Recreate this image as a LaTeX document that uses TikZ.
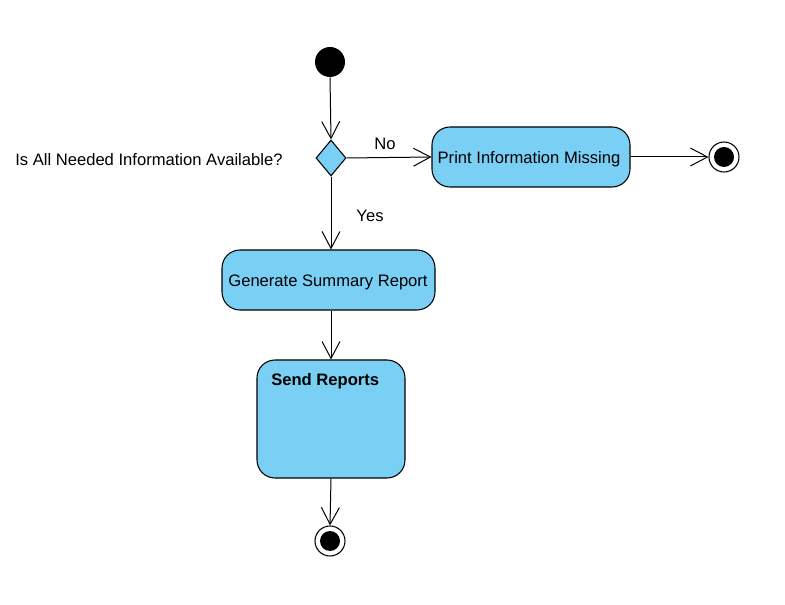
\documentclass[tikz,border=0pt]{standalone}
\usepackage{fontspec}
\setmainfont{Liberation Sans}
\usetikzlibrary{arrows.meta,shapes.geometric}
\definecolor{actblue}{RGB}{122,207,245}
\begin{document}
\begin{tikzpicture}[x=0.75pt,y=-0.75pt,
  every node/.style={font=\fontsize{12.45}{14}\selectfont},
  action/.style={draw=black, fill=actblue, rounded corners=13.5pt, line width=0.8pt, inner sep=0pt},
  initnode/.style={circle, fill=black, minimum size=22.5pt, inner sep=0pt},
  finalnode/.style={circle, draw=black, fill=white, line width=0.8pt, minimum size=22.5pt, inner sep=0pt,
     path picture={\fill[black] (path picture bounding box.center) circle (7.5pt);}},
  decision/.style={diamond, draw=black, fill=actblue, line width=0.8pt, minimum width=22.5pt, minimum height=27pt, inner sep=0pt},
  flow/.style={line width=0.75pt, -{Straight Barb[length=12.75pt,width=13.5pt,line width=0.75pt]}},
  lbl/.style={inner sep=0pt}
]
\useasboundingbox (0,0) rectangle (785,605);

\node[initnode] (init) at (330,62) {};
\node[decision] (dec) at (331,158) {};
\node[lbl, anchor=west] (question) at (15,160) {Is All Needed Information Available?};
\node[action, minimum width=148.5pt, minimum height=45pt] (print) at (531,157) {};
\node[lbl] (printlbl) at (529,159) {Print Information Missing};
\node[finalnode] (final1) at (724,157) {};
\node[action, minimum width=159.75pt, minimum height=45pt] (gen) at (328.5,280) {};
\node[lbl] (genlbl) at (328,282) {Generate Summary Report};
\node[action, minimum width=111pt, minimum height=88.5pt] (send) at (331,419) {};
\node[lbl, anchor=west, font=\fontsize{12.45}{14}\selectfont\bfseries] (sendlbl) at (271,381) {Send Reports};
\node[finalnode] (final2) at (330,541) {};

\node[lbl] (nolbl) at (385,144) {No};
\node[lbl] (yeslbl) at (370,216) {Yes};

\draw[flow] (init.south) -- (dec.north);
\draw[flow] (dec.east) -- (print.west);
\draw[flow] (print.east) -- (final1.west);
\draw[flow] (dec.south) -- (dec.south |- gen.north);
\draw[flow] (send.north |- gen.south) -- (send.north);
\draw[flow] (send.south) -- (final2.north);
\end{tikzpicture}
\end{document}
